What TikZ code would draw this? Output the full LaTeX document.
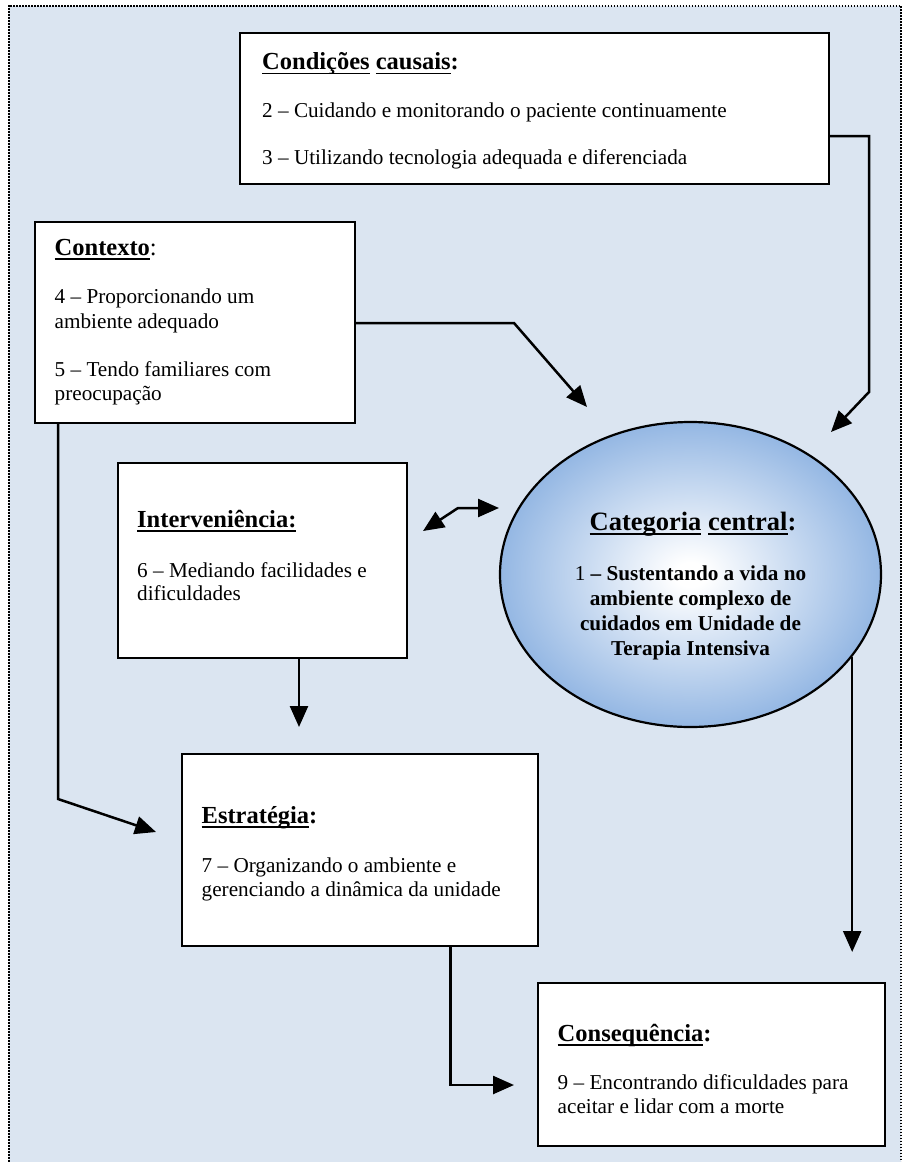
\documentclass[tikz,border=0pt]{standalone}
\usepackage{fontspec}
\setmainfont{Liberation Serif}
\usetikzlibrary{arrows.meta,shapes.geometric}

\definecolor{pagebg}{RGB}{219,229,241}

% white core fading to blue towards the rim of the central ellipse
\pgfdeclareradialshading{ctrball}{\pgfpoint{0bp}{0bp}}{%
  rgb(0bp)=(1,1,1); rgb(2bp)=(1,1,1);
  rgb(27bp)=(0.545,0.694,0.882); rgb(50bp)=(0.545,0.694,0.882)}

% word-processor style underline at a fixed depth
\newcommand\ulword[1]{\leavevmode\setbox0=\hbox{#1}\rlap{\rule[-0.2em]{\wd0}{0.07em}}\box0\relax}
\newcommand\bodyfs{\fontsize{21.2}{25}\selectfont}
\newcommand\headfs{\fontsize{24.5}{29}\selectfont\bfseries}
\newcommand\catfs{\fontsize{26.5}{31}\selectfont\bfseries}

\tikzset{
  box/.style={draw=black, line width=2.2pt, fill=white, rectangle,
    inner sep=0pt, anchor=north west},
  txt/.style={anchor=base west, inner sep=0pt, font=\bodyfs},
  head/.style={anchor=base west, inner sep=0pt, font=\headfs},
  ctxt/.style={anchor=base, inner sep=0pt, font=\bodyfs\bfseries},
  conn/.style={draw=black, line width=2.5pt, -{Triangle[length=21pt,width=18pt]}},
  twoway/.style={draw=black, line width=2.5pt,
    {Triangle[length=21pt,width=18pt]}-{Triangle[length=21pt,width=18pt]}},
  frame/.style={draw=black, line width=2pt, dash pattern=on 1.6pt off 1.4pt}
}

\begin{document}
\begin{tikzpicture}[x=1pt,y=-1pt]
\useasboundingbox (0,0) rectangle (905,1162);

% page background with dotted frame
\fill[pagebg] (8.5,6) rectangle (901,1162);
\draw[frame] (8.5,1162) -- (8.5,6) -- (901,6) -- (901,1162);

% ---- boxes ----
\node[box, minimum width=589pt, minimum height=151pt] (cond) at (239,32) {};
\node[box, minimum width=320pt, minimum height=201pt] (ctx) at (34,221) {};
\node[box, minimum width=289pt, minimum height=195pt] (intv) at (117,462) {};
\node[box, minimum width=356pt, minimum height=192pt] (estr) at (181,753) {};
\node[box, minimum width=347pt, minimum height=163pt] (cons) at (537,982) {};
\node[ellipse, draw=black, line width=2.2pt, shading=ctrball, shade,
      minimum width=381pt, minimum height=305pt, inner sep=0pt]
      (cat) at (690.5,574.5) {};

% ---- texts ----
\node[head] (condT) at (262,69.5) {\ulword{Condições} \ulword{causais}:};
\node[txt] (condA) at (262,117) {2 – Cuidando e monitorando o paciente continuamente};
\node[txt] (condB) at (262,164) {3 – Utilizando tecnologia adequada e diferenciada};

\node[head] (ctxT) at (54.5,255) {\ulword{Contexto}{\mdseries:}};
\node[txt] (ctxA) at (54.5,303) {4 – Proporcionando um};
\node[txt] (ctxB) at (54.5,328) {ambiente adequado};
\node[txt] (ctxC) at (54.5,376) {5 – Tendo familiares com};
\node[txt] (ctxD) at (54.5,400) {preocupação};

\node[head] (intvT) at (137,527) {\ulword{Interveniência:}};
\node[txt] (intvA) at (137,577) {6 – Mediando facilidades e};
\node[txt] (intvB) at (137,600) {dificuldades};

\node[head] (estrT) at (201.5,823) {\ulword{Estratégia}:};
\node[txt] (estrA) at (201.5,872) {7 – Organizando o ambiente e};
\node[txt] (estrB) at (201.5,896) {gerenciando a dinâmica da unidade};

\node[head] (consT) at (557.5,1041) {\ulword{Consequência}:};
\node[txt] (consA) at (557.5,1089) {9 – Encontrando dificuldades para};
\node[txt] (consB) at (557.5,1113) {aceitar e lidar com a morte};

\node[anchor=base, inner sep=0pt, font=\catfs] (catT) at (693,530)
  {\ulword{Categoria} \ulword{central}:};
\node[ctxt] (catA) at (690.5,580) {{\mdseries 1} – Sustentando a vida no};
\node[ctxt] (catB) at (690.5,605) {ambiente complexo de};
\node[ctxt] (catC) at (690.5,630) {cuidados em Unidade de};
\node[ctxt] (catD) at (690.5,655) {Terapia Intensiva};

% ---- connector bends and arrow ends ----
\coordinate (condOut) at (869,136);
\coordinate (condBend) at (869,392);
\coordinate (condTip) at (831,432);
\coordinate (ctxOut) at (514,323);
\coordinate (ctxTip) at (587,407);
\coordinate (ctxDown) at (58,799);
\coordinate (estrTip) at (156,832);
\coordinate (intvTip) at (423,531);
\coordinate (intvBend) at (458,508);
\coordinate (catTip) at (499,508);
\coordinate (intvDown) at (299,727);
\coordinate (catDown) at (851,952);
\coordinate (consTurn) at (450.5,1085);
\coordinate (consTip) at (514,1085);

% ---- connectors ----
\draw[conn] (cond.east |- condOut) -- (condOut) -- (condBend) -- (condTip);
\draw[conn] (ctx.east |- ctxOut) -- (ctxOut) -- (ctxTip);
\draw[conn] (ctx.south -| ctxDown) -- (ctxDown) -- (estrTip);
\draw[twoway] (intvTip) -- (intvBend) -- (catTip);
\draw[conn] (intv.south -| intvDown) -- (intvDown);
\draw[conn] (cat.-27.2) -- (cat.-27.2 |- catDown);
\draw[conn] (estr.south -| consTurn) -- (consTurn) -- (consTip);
\end{tikzpicture}
\end{document}
